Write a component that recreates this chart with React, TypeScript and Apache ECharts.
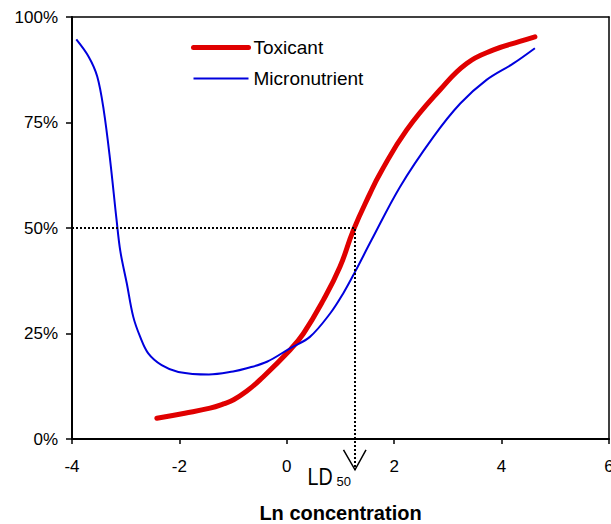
import React, { useEffect, useRef } from "react";
import * as echarts from "echarts";

const toxicantData: [number, number][] = [
  [-2.42, 4.9], [-1.9, 6.1], [-1.43, 7.3], [-1.18, 8.3], [-0.99, 9.3], [-0.75, 11.3], [-0.5, 14],
  [0.06, 21.1], [0.31, 25], [0.68, 32.9], [0.99, 40.8], [1.24, 49.5], [1.55, 58.2], [1.74, 63],
  [2.23, 73.2], [2.85, 82.7], [3.35, 89], [3.85, 92.2], [4.34, 94.2], [4.62, 95.3],
];

const micronutrientData: [number, number][] = [
  [-3.92, 94.7], [-3.69, 90.6], [-3.53, 85.9], [-3.41, 78], [-3.29, 66.1], [-3.17, 51.9],
  [-3.1, 44.5], [-2.98, 36.9], [-2.86, 29], [-2.73, 24.2], [-2.58, 20.3], [-2.33, 17.5],
  [-2.02, 15.9], [-1.45, 15.3], [-1.0, 16.0], [-0.745, 16.75], [-0.37, 18.3], [0.06, 21.5],
  [0.43, 24.2], [0.81, 29.8], [1.05, 34.5], [1.27, 39.6], [1.58, 47.2], [2.11, 59.8],
  [2.73, 71.6], [3.23, 79.5], [3.72, 85.1], [4.22, 89], [4.62, 92.6],
];

const ld50X = 1.27;
const ld50Level = 50;
const guideBottom = -7.3;
const seriesNames = ["Toxicant", "Micronutrient"];
const xTitle = "Ln concentration";

const FONT = "'Liberation Sans', Arial, Helvetica, sans-serif";
const RED = "#e00000";
const BLUE = "#0000dd";

export default function App() {
  const ref = useRef<HTMLDivElement>(null);
  useEffect(() => {
    if (!ref.current) return;
    const chart = echarts.init(ref.current, undefined, { renderer: "svg" });
    chart.setOption({
      animation: false,
      textStyle: { fontFamily: FONT },
      grid: { left: 72, right: 2, top: 17, bottom: 85, outerBoundsMode: "none", containLabel: false },
      legend: {
        data: [
          { name: seriesNames[0], lineStyle: { width: 5, color: RED } },
          { name: seriesNames[1], lineStyle: { width: 2, color: BLUE } },
        ],
        orient: "vertical",
        left: 191,
        top: 38,
        itemWidth: 55,
        itemHeight: 19,
        itemGap: 12,
        padding: 0,
        itemStyle: { opacity: 0 },
        textStyle: { fontSize: 19, color: "#000", fontFamily: FONT, lineHeight: 19 },
      },
      xAxis: [
        {
          type: "value", min: -4, max: 6, interval: 2,
          axisLine: { onZero: false, lineStyle: { color: "#000", width: 2 } },
          axisTick: { show: true, inside: false, length: 5, lineStyle: { color: "#000", width: 1.5 } },
          axisLabel: { fontSize: 17, color: "#000", margin: 19, fontFamily: FONT },
          splitLine: { show: false },
          name: xTitle,
          nameLocation: "middle",
          nameGap: 64,
          nameTextStyle: { fontSize: 20, fontWeight: "bold", color: "#000", fontFamily: FONT },
        },
        {
          type: "value", min: -4, max: 6, interval: 2, position: "top",
          axisLine: { show: true, onZero: false, lineStyle: { color: "#000", width: 1.5 } },
          axisTick: { show: false }, axisLabel: { show: false }, splitLine: { show: false },
        },
      ],
      yAxis: [
        {
          type: "value", min: 0, max: 100, interval: 25,
          axisLine: { show: true, onZero: false, lineStyle: { color: "#000", width: 2 } },
          axisTick: { show: true, inside: false, length: 6, lineStyle: { color: "#000", width: 1.5 } },
          axisLabel: { fontSize: 17, color: "#000", margin: 14, formatter: "{value}%", fontFamily: FONT },
          splitLine: { show: false },
        },
        {
          type: "value", min: 0, max: 100, interval: 25, position: "right",
          axisLine: { show: true, onZero: false, lineStyle: { color: "#000", width: 1.5 } },
          axisTick: { show: false }, axisLabel: { show: false }, splitLine: { show: false },
        },
      ],
      series: [
        {
          name: seriesNames[0], type: "line", data: toxicantData, symbol: "none",
          smooth: 0.45,
          lineStyle: { color: RED, width: 5, cap: "round" },
          itemStyle: { color: RED },
        },
        {
          name: seriesNames[1], type: "line", data: micronutrientData, symbol: "none",
          smooth: 0.35,
          lineStyle: { color: BLUE, width: 2 },
          itemStyle: { color: BLUE },
        },
        {
          name: "LD50 guide", type: "line", symbol: "none", clip: false, silent: true,
          data: [[-4, ld50Level], [ld50X, ld50Level], [ld50X, guideBottom]],
          lineStyle: { color: "#000", width: 2, type: [2, 2] },
          z: 5,
        },
      ],
    });
    const bottom = chart.convertToPixel({ gridIndex: 0 }, [ld50X, guideBottom]) as number[];
    const bx = bottom[0];
    const by = bottom[1];
    chart.setOption({
      graphic: [
        {
          type: "polyline",
          shape: { points: [[bx - 11.5, by - 20], [bx, by], [bx + 11, by - 20]] },
          style: { stroke: "#000", lineWidth: 1.5, fill: "none" },
          z: 10,
        },
        {
          type: "text", x: bx - 47.5, y: by + 19, scaleX: 0.82,
          style: { text: "LD", fill: "#000", font: `24px ${FONT}`, verticalAlign: "bottom" },
          z: 10,
        },
        {
          type: "text", x: bx - 18.5, y: by + 18,
          style: { text: "50", fill: "#000", font: `13px ${FONT}`, verticalAlign: "bottom" },
          z: 10,
        },
      ],
    });
    return () => chart.dispose();
  }, []);
  return (
    <div
      ref={ref}
      style={{ position: "absolute", left: 0, top: 0, width: 611, height: 524, background: "#fff" }}
    />
  );
}
